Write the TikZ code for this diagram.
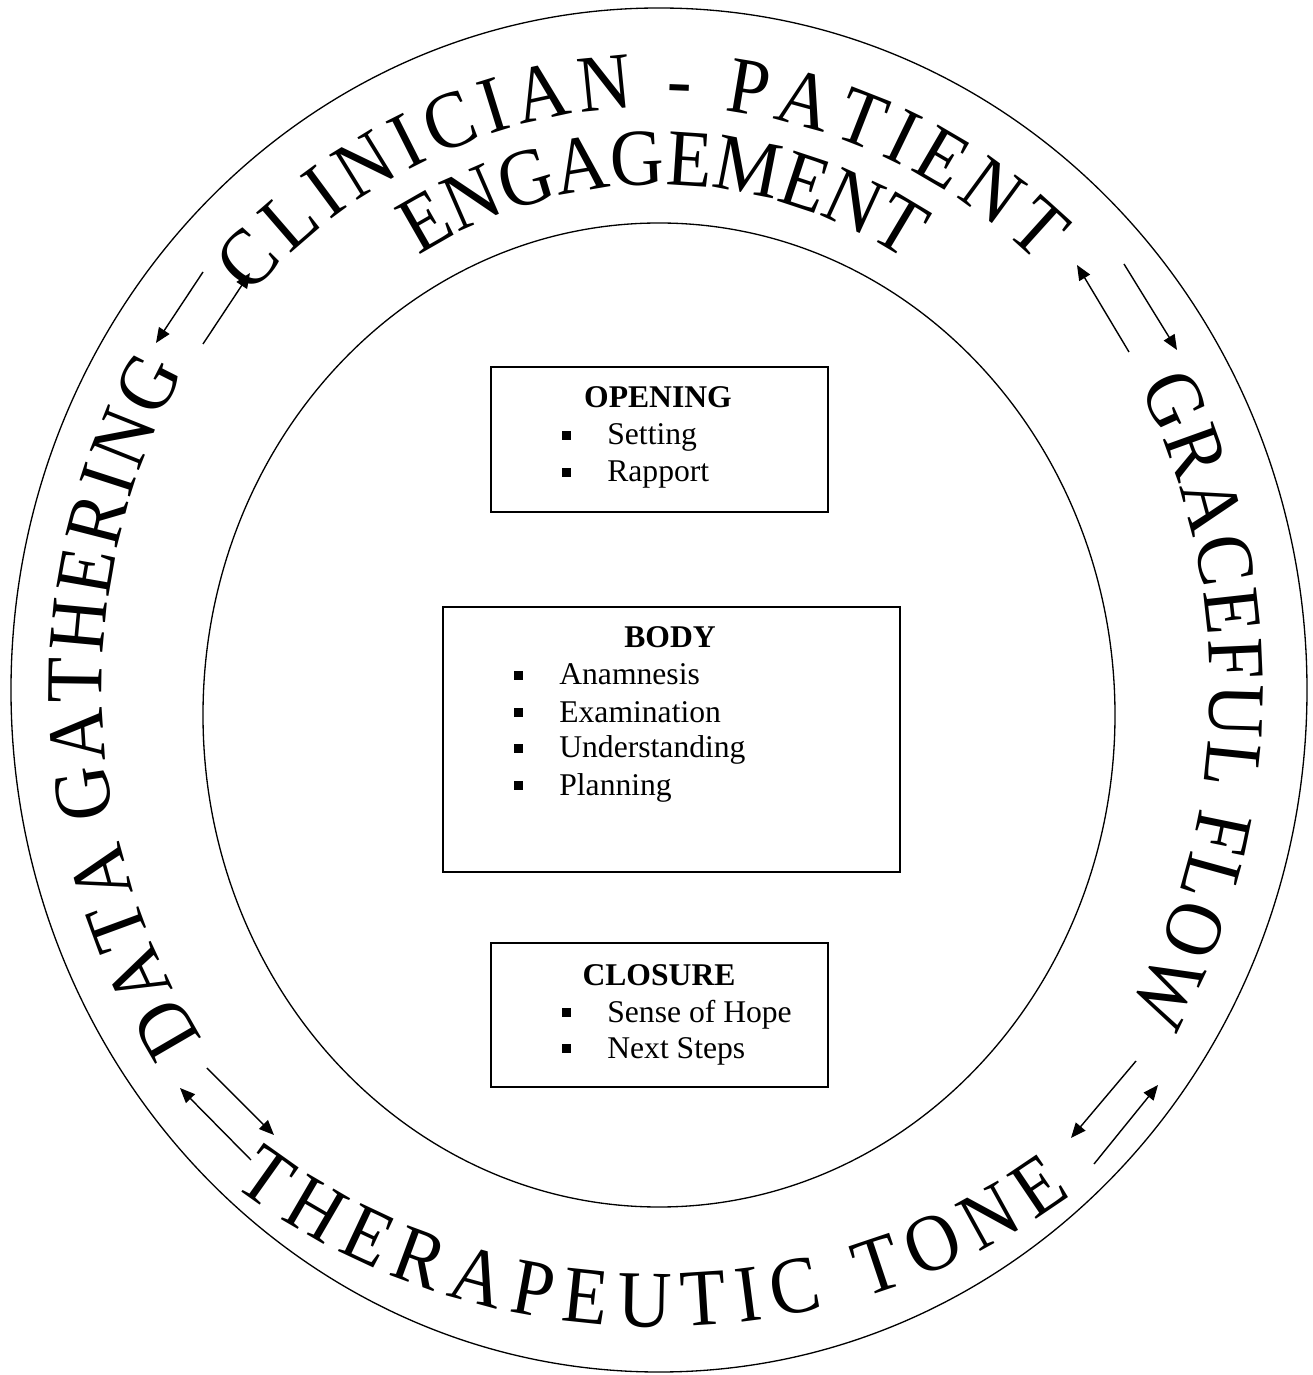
\documentclass[tikz,border=0pt]{standalone}
\usepackage{fontspec}
\setmainfont{Liberation Serif}
\newfontfamily\arcfont[FakeStretch=0.92]{Liberation Serif}
\usetikzlibrary{arrows.meta,decorations.text}

\tikzset{
  ring/.style={line width=0.75pt},
  box/.style={draw, rectangle, line width=1.1pt, inner sep=0pt},
  title/.style={anchor=base, inner sep=0pt, font=\fontsize{18}{22}\selectfont\bfseries},
  item/.style={anchor=base west, inner sep=0pt, font=\fontsize{18}{22}\selectfont},
  twoway/.style={line width=0.8pt, -{Triangle[length=0.3cm,width=0.25cm]}},
  arcword/.style={decorate, decoration={text along path, text format delimiters={|}{|}}},
  fitword/.style={arcword, decoration={text align={fit to path}}}
}
\newcommand{\sqbul}{\rule[0.1cm]{0.18cm}{0.18cm}\hspace{0.72cm}}
\newcommand{\bigarc}{\arcfont\fontsize{46}{46}\selectfont}

\begin{document}
\begin{tikzpicture}[x=0.02cm, y=0.02cm]
\useasboundingbox (-659,-685) rectangle (653,690);

% rings
\draw[ring] (0,0) ellipse [x radius=648, y radius=682];
\draw[ring] (0,-25) ellipse [x radius=456, y radius=492];

% words round the ring
\path[fitword, decoration={text={|\bigarc|CLINICIAN - PATIENT}}] (137.5:555 and 583) arc[start angle=137.5, end angle=47, x radius=555, y radius=583];
\path[arcword, decoration={text={|\bigarc|ENGAGEMENT}, text align=center}] (125:470 and 505) arc[start angle=125, end angle=54, x radius=470, y radius=505];
\path[fitword, decoration={text={|\bigarc|DATA GATHERING}}] (215:557 and 608) arc[start angle=215, end angle=148.5, x radius=557, y radius=608];
\path[fitword, decoration={text={|\bigarc|GRACEFUL FLOW}}] (29.5:551 and 615) arc[start angle=29.5, end angle=-31.5, x radius=551, y radius=615];
\path[fitword, decoration={text={|\bigarc|THERAPEUTIC TONE}}] (-129:677 and 637) arc[start angle=-129, end angle=-52.4, x radius=677, y radius=637];

% boxes
\node[box, minimum width=6.74cm, minimum height=2.9cm] (opening) at (0.5,250.5) {};
\node[box, minimum width=9.14cm, minimum height=5.3cm] (body) at (12.5,-49.5) {};
\node[box, minimum width=6.74cm, minimum height=2.88cm] (closure) at (0.5,-325) {};

\node[title] (openhead) at (-1,282) {OPENING};
\node[item] (setting) at (-97,245) {\sqbul Setting};
\node[item] (rapport) at (-97,208) {\sqbul Rapport};

\node[title] (bodyhead) at (11,42) {BODY};
\node[item] (anamnesis) at (-145,5) {\sqbul Anamnesis};
\node[item] (exam) at (-145,-32) {\sqbul Examination};
\node[item] (understand) at (-145,-68) {\sqbul Understanding};
\node[item] (planning) at (-145,-105) {\sqbul Planning};

\node[title] (closehead) at (0,-295) {CLOSURE};
\node[item] (hope) at (-97,-332) {\sqbul Sense of Hope};
\node[item] (nextsteps) at (-97,-368) {\sqbul Next Steps};

% arrow ends
\coordinate (tla) at (-456,418); \coordinate (tlb) at (-503,347);
\coordinate (tlc) at (-456,346); \coordinate (tld) at (-409,417);
\coordinate (tra) at (470,338);  \coordinate (trb) at (418,425);
\coordinate (trc) at (465,426);  \coordinate (trd) at (518,340);
\coordinate (bla) at (-408,-470); \coordinate (blb) at (-479,-398);
\coordinate (blc) at (-452,-378); \coordinate (bld) at (-385,-445);
\coordinate (bra) at (477,-371); \coordinate (brb) at (412,-448);
\coordinate (brc) at (435,-474); \coordinate (brd) at (499,-395);

\draw[twoway] (tla) -- (tlb);
\draw[twoway] (tlc) -- (tld);
\draw[twoway] (tra) -- (trb);
\draw[twoway] (trc) -- (trd);
\draw[twoway] (bla) -- (blb);
\draw[twoway] (blc) -- (bld);
\draw[twoway] (bra) -- (brb);
\draw[twoway] (brc) -- (brd);
\end{tikzpicture}
\end{document}
